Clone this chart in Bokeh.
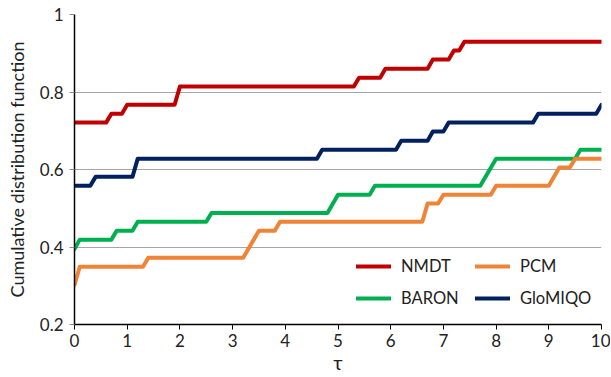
from bokeh.plotting import figure
from bokeh.models import Legend, LegendItem, FixedTicker, Range1d
from bokeh.embed import file_html
from bokeh.resources import INLINE

# Performance-profile data (tau, cumulative fraction) vertices
nmdt_x = [0, 0.6, 0.7, 0.9, 1.0, 1.9, 2.0, 5.3, 5.4, 5.8, 5.9, 6.7, 6.8, 7.1, 7.2, 7.3, 7.4, 10]
nmdt_y = [0.721, 0.721, 0.744, 0.744, 0.767, 0.767, 0.814, 0.814, 0.837, 0.837, 0.860, 0.860,
          0.884, 0.884, 0.907, 0.907, 0.930, 0.930]

glomiqo_x = [0, 0.3, 0.4, 1.1, 1.2, 4.6, 4.7, 6.1, 6.2, 6.7, 6.8, 7.0, 7.1, 8.7, 8.8, 9.9, 10]
glomiqo_y = [0.558, 0.558, 0.581, 0.581, 0.628, 0.628, 0.651, 0.651, 0.674, 0.674, 0.698, 0.698,
             0.721, 0.721, 0.744, 0.744, 0.767]

baron_x = [0, 0.1, 0.7, 0.8, 1.1, 1.2, 2.5, 2.6, 4.8, 5.0, 5.6, 5.7, 7.7, 8.0, 9.5, 9.6, 10]
baron_y = [0.395, 0.419, 0.419, 0.442, 0.442, 0.465, 0.465, 0.488, 0.488, 0.535, 0.535, 0.558,
           0.558, 0.628, 0.628, 0.651, 0.651]

pcm_x = [0, 0.1, 1.3, 1.4, 3.2, 3.5, 3.8, 3.9, 6.6, 6.7, 6.9, 7.0, 7.9, 8.0, 9.0, 9.2, 9.4, 9.5, 10]
pcm_y = [0.302, 0.349, 0.349, 0.372, 0.372, 0.442, 0.442, 0.465, 0.465, 0.512, 0.512, 0.535,
         0.535, 0.558, 0.558, 0.605, 0.605, 0.628, 0.628]

x_ticks = [0, 1, 2, 3, 4, 5, 6, 7, 8, 9, 10]
y_ticks = [0.2, 0.4, 0.6, 0.8, 1.0]
y_tick_labels = {0.2: "0.2", 0.4: "0.4", 0.6: "0.6", 0.8: "0.8", 1.0: "1"}

FONT = "Lato"

p = figure(width=610, height=376, output_backend="svg", toolbar_location=None,
           x_range=Range1d(0, 10), y_range=Range1d(0.2, 1.0),
           min_border_left=74, min_border_right=9, min_border_top=14, min_border_bottom=50)
p.outline_line_color = None
p.background_fill_color = "white"
p.border_fill_color = "white"

kw = dict(line_width=4, line_cap="round", line_join="round")
r_nmdt = p.line(nmdt_x, nmdt_y, line_color="#C00000", **kw)
r_baron = p.line(baron_x, baron_y, line_color="#00B050", **kw)
r_pcm = p.line(pcm_x, pcm_y, line_color="#F08436", **kw)
r_glo = p.line(glomiqo_x, glomiqo_y, line_color="#002060", **kw)

# axes
p.xaxis.ticker = FixedTicker(ticks=x_ticks)
p.yaxis.ticker = FixedTicker(ticks=y_ticks)
p.yaxis.major_label_overrides = y_tick_labels
for ax in (p.xaxis, p.yaxis):
    ax.axis_line_color = "black"
    ax.axis_line_width = 1.5
    ax.major_tick_line_color = "black"
    ax.major_tick_out = 5
    ax.major_tick_in = 0
    ax.minor_tick_line_color = None
    ax.major_label_text_font = FONT
    ax.major_label_text_font_size = "17px"
    ax.major_label_text_color = "#222222"
    ax.axis_label_text_font = FONT
    ax.axis_label_text_font_style = "normal"
    ax.axis_label_text_color = "#222222"
p.yaxis.major_tick_line_color = "#888888"
p.yaxis.axis_label = "Cumulative distribution function"
p.yaxis.axis_label_text_font_size = "18px"
p.yaxis.axis_label_standoff = 9
p.xaxis.axis_label = "τ"
p.xaxis.axis_label_text_font_size = "20px"
p.xaxis.axis_label_standoff = 0
p.xaxis.major_label_standoff = 4
p.yaxis.major_label_standoff = 6

p.xgrid.grid_line_color = None
p.ygrid.grid_line_color = "#A6A6A6"
p.ygrid.grid_line_width = 1.2

legend = Legend(items=[LegendItem(label="NMDT", renderers=[r_nmdt]),
                       LegendItem(label="BARON", renderers=[r_baron]),
                       LegendItem(label="PCM", renderers=[r_pcm]),
                       LegendItem(label="GloMIQO", renderers=[r_glo])],
                location=(282, 15), ncols=2)
legend.background_fill_alpha = 0
legend.border_line_color = None
legend.label_text_font = FONT
legend.label_text_font_size = "16.5px"
legend.label_text_color = "#222222"
legend.glyph_width = 35
legend.glyph_height = 22
legend.label_width = 64
legend.spacing = 10
legend.label_standoff = 10
legend.margin = 0
legend.padding = 4
p.add_layout(legend)

open("out.html", "w").write(file_html(p, INLINE))
